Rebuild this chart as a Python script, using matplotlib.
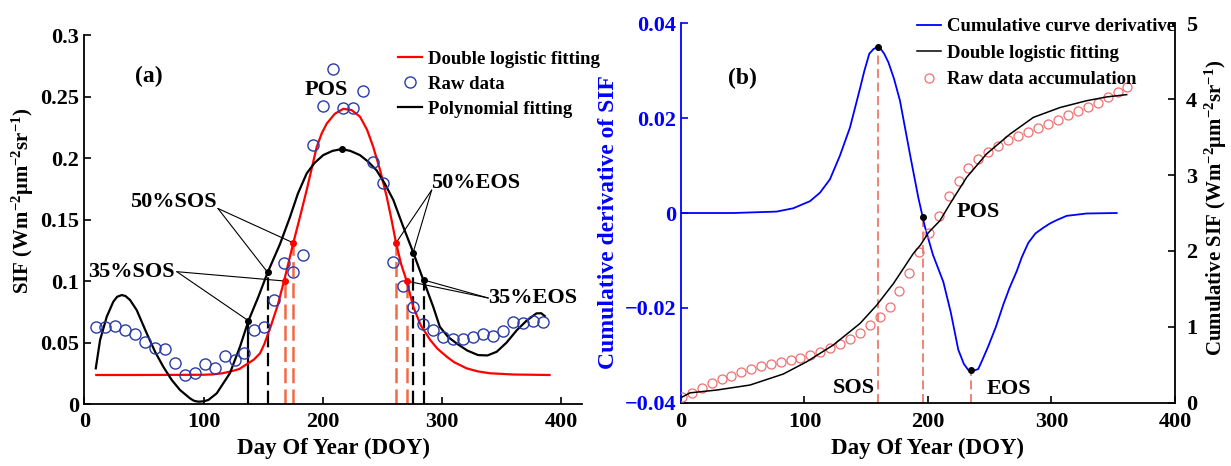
import numpy as np
import matplotlib.pyplot as plt

plt.rcParams['font.family'] = ['Liberation Serif', 'DejaVu Serif']
plt.rcParams['font.weight'] = 'bold'
plt.rcParams['axes.labelweight'] = 'bold'
plt.rcParams['mathtext.fontset'] = 'custom'
plt.rcParams['mathtext.rm'] = 'Liberation Serif:bold'
plt.rcParams['mathtext.it'] = 'Liberation Serif:bold:italic'
plt.rcParams['mathtext.bf'] = 'Liberation Serif:bold'
plt.rcParams['lines.solid_joinstyle'] = 'round'

# ---------------- panel (a) data ----------------
raw_doy = [9.6, 17.6, 26.0, 34.4, 42.5, 51.1, 59.3, 67.4, 76.0, 84.4, 92.8, 101.2,
           109.6, 117.9, 126.3, 134.1, 142.5, 150.9, 159.0, 167.4, 175.2, 183.6,
           192.0, 199.8, 208.2, 216.6, 225.0, 233.4, 241.7, 250.6, 258.5, 266.9,
           275.3, 283.7, 292.0, 300.4, 308.8, 317.2, 325.6, 334.0, 342.3, 350.7,
           359.1, 367.5, 375.9, 384.2]
raw_sif = [0.063, 0.063, 0.0634, 0.060, 0.057, 0.0504, 0.0458, 0.045, 0.0336, 0.0236,
           0.025, 0.0325, 0.0295, 0.0393, 0.0358, 0.0417, 0.060, 0.063, 0.0846, 0.1144,
           0.107, 0.121, 0.2106, 0.2423, 0.272, 0.241, 0.241, 0.2545, 0.197, 0.1794,
           0.1152, 0.0962, 0.0786, 0.0648, 0.0602, 0.0547, 0.0526, 0.0528, 0.0547,
           0.0569, 0.0553, 0.0593, 0.0669, 0.0661, 0.0677, 0.0667]

dl_doy = [10, 40, 80, 100, 108, 115, 122, 130, 136, 142, 147.3, 151, 155.7, 162, 167.4,
          175.2, 181, 186.4, 194.8, 199, 203.2, 210, 217.1, 224, 231.1, 237, 242.2, 248,
          253.5, 257.5, 261.3, 265.5, 270.2, 275.8, 282, 290, 296, 303.8, 310, 320.5, 330,
          340, 360, 390]
dl_sif = [0.0236, 0.0236, 0.0237, 0.0238, 0.0241, 0.0249, 0.0263, 0.0285, 0.0323, 0.036,
          0.0412, 0.049, 0.0615, 0.080, 0.100, 0.131, 0.153, 0.174, 0.209, 0.220, 0.228,
          0.236, 0.240, 0.239, 0.2336, 0.223, 0.209, 0.190, 0.1685, 0.150, 0.131, 0.114,
          0.100, 0.079, 0.064, 0.052, 0.045, 0.0385, 0.034, 0.029, 0.0265, 0.025, 0.024,
          0.0236]

poly_doy = [9.6, 13.2, 18.8, 24.3, 27.5, 31.3, 34.5, 38.3, 43.9, 52.3, 59.3, 66.2, 73.3,
            80.2, 88.6, 92.0, 95.6, 100.0, 104, 111, 122, 130.5, 137.6, 145.9, 153.7, 164,
            172.4, 179, 186.4, 193, 200.3, 208, 215.7, 223, 231, 238, 245, 252, 259, 267,
            275.8, 284.2, 292.5, 298, 305, 312, 321, 330, 338, 345.7, 354, 362.5, 371, 379,
            383, 386]
poly_sif = [0.029, 0.052, 0.071, 0.0832, 0.0872, 0.0886, 0.0878, 0.0846, 0.0764, 0.0575,
            0.0425, 0.0303, 0.0195, 0.0114, 0.0046, 0.0026, 0.0019, 0.0022, 0.0033, 0.0087,
            0.025, 0.0466, 0.0677, 0.0872, 0.107, 0.130, 0.152, 0.171, 0.1875, 0.196, 0.2024,
            0.2058, 0.2073, 0.2058, 0.2024, 0.197, 0.190, 0.179, 0.166, 0.145, 0.123,
            0.1008, 0.079, 0.0628, 0.0545, 0.0493, 0.0435, 0.0398, 0.0395, 0.0425, 0.050,
            0.060, 0.068, 0.0737, 0.0738, 0.0715]

# phenology points: [SOS35, SOS50, EOS50, EOS35]
dl_pts_doy = [168.0, 175.2, 261.3, 270.2]
dl_pts_sif = [0.100, 0.131, 0.131, 0.100]
poly_pts_doy = [137.6, 153.7, 275.6, 284.6]
poly_pts_sif = [0.0677, 0.107, 0.123, 0.1008]
poly_pos = (215.7, 0.2073)

# ---------------- panel (b) data ----------------
cum_doy = [0.5, 8.6, 16.8, 24.9, 33.0, 40.5, 48.6, 56.7, 64.8, 72.9, 81.0, 89.1, 96.4,
           104.5, 112.6, 120.6, 128.7, 136.8, 144.9, 153.0, 161.1, 169.2, 176.8, 184.9,
           193.0, 201.0, 209.2, 217.0, 225.1, 232.7, 240.7, 248.3, 256.4, 264.5, 272.6,
           280.7, 288.8, 296.9, 305.0, 313.1, 321.2, 329.3, 337.4, 345.5, 353.6, 360.9]
cum_raw = [0.071, 0.13, 0.19, 0.255, 0.308, 0.355, 0.40, 0.443, 0.483, 0.505, 0.53, 0.56,
           0.592, 0.628, 0.663, 0.715, 0.772, 0.834, 0.913, 1.022, 1.132, 1.255, 1.47,
           1.71, 1.98, 2.23, 2.457, 2.72, 2.917, 3.097, 3.215, 3.30, 3.387, 3.457, 3.52,
           3.566, 3.618, 3.676, 3.72, 3.786, 3.84, 3.895, 3.95, 4.026, 4.10, 4.167]

fit_doy = [0.5, 7.3, 28.9, 55.9, 82.8, 101.8, 123.3, 145.0, 158.5, 172.0, 177.3, 188.1,
           194.0, 200.3, 209.7, 217.8, 231.3, 247.5, 266.4, 285.3, 306.9, 328.5, 344.7, 360.9]
fit_cum = [0.071, 0.13, 0.167, 0.233, 0.378, 0.54, 0.76, 1.045, 1.286, 1.57, 1.70, 1.966,
           2.08, 2.24, 2.40, 2.62, 2.97, 3.28, 3.54, 3.76, 3.89, 3.98, 4.03, 4.06]

der_doy = [0.7, 42.4, 77.5, 90.9, 104.5, 112.6, 120.6, 128.7, 136.8, 144.9, 148.5, 152.5,
           156.0, 159.3, 161.2, 164.5, 167.9, 172.5, 177.3, 185.4, 192.2, 197.6, 204.0,
           212.4, 218.5, 224.5, 229.0, 232.6, 234.6, 237.5, 240.7, 244.0, 248.8, 255.0,
           261.0, 266.0, 271.8, 276.0, 281.2, 287.0, 293.4, 298.8, 304.2, 312.3, 328.5,
           352.8]
der_val = [0, 0, 0.0003, 0.001, 0.0025, 0.0043, 0.0071, 0.0121, 0.018, 0.0262, 0.030,
           0.0336, 0.0346, 0.035, 0.0348, 0.0336, 0.0318, 0.0283, 0.0237, 0.0124, 0.0032,
           -0.003, -0.0088, -0.0145, -0.021, -0.0288, -0.0318, -0.0331, -0.0332, -0.0332,
           -0.0329, -0.031, -0.0281, -0.024, -0.0193, -0.0158, -0.0123, -0.0093, -0.0063,
           -0.0043, -0.0031, -0.0022, -0.0015, -0.0006, -0.0001, 0]

# [SOS, POS, EOS] on derivative axis
pheno_doy = [159.3, 196.2, 234.6]
pheno_val = [0.035, -0.0009, -0.0332]

ORANGE = "#f26a45"
SALMON = "#ef7a6a"
BLUE_C = "#2a3aa8"

fig = plt.figure(figsize=(12.31, 4.66), dpi=100)
ax1 = fig.add_axes([0.0685, 0.1330, 0.4041, 0.7918])
ax2 = fig.add_axes([0.5532, 0.1358, 0.4013, 0.8142])
ax3 = ax2.twinx()

# ---------------- panel (a) ----------------
h_dl, = ax1.plot(dl_doy, dl_sif, color="red", lw=1.6, zorder=3)
h_poly, = ax1.plot(poly_doy, poly_sif, color="black", lw=1.6, zorder=3)
h_raw, = ax1.plot(raw_doy, raw_sif, "o", mfc="none", mec=BLUE_C, ms=8, mew=1.0, zorder=4)

dash = (0, (6, 2.5))
ax1.vlines(poly_pts_doy[0], 0, poly_pts_sif[0], color="black", lw=1.6)
for i in [1, 2, 3]:
    ax1.vlines(poly_pts_doy[i], 0, poly_pts_sif[i], color="black", lw=1.6, linestyles=[dash])
for i in range(4):
    ax1.vlines(dl_pts_doy[i], 0, dl_pts_sif[i], color=ORANGE, lw=1.8, linestyles=[dash])
ax1.plot(poly_pts_doy, poly_pts_sif, "o", color="black", ms=4, zorder=5)
ax1.plot(*poly_pos, "o", color="black", ms=4, zorder=5)
ax1.plot(dl_pts_doy, dl_pts_sif, "o", color="red", ms=4, zorder=5)

ax1.set_xlim(0, 417)
ax1.set_ylim(0, 0.3)
ax1.set_xticks([0, 100, 200, 300, 400])
ax1.set_yticks([0, 0.05, 0.1, 0.15, 0.2, 0.25, 0.3])
ax1.set_yticklabels(["0", "0.05", "0.1", "0.15", "0.2", "0.25", "0.3"])
ax1.set_xlabel("Day Of Year (DOY)", fontsize=16.5)
ax1.set_ylabel("SIF (Wm$^{-2}$μm$^{-2}$sr$^{-1}$)", fontsize=15, y=0.55, labelpad=3)

line_kw = dict(arrowstyle="-", color="black", lw=0.8, shrinkA=0, shrinkB=0)
ax1.text(54, 0.266, "(a)", fontsize=17, ha="center", va="center")
ax1.text(202.6, 0.255, "POS", fontsize=16, ha="center", va="center")
ax1.text(38, 0.164, "50%SOS", fontsize=16, ha="left", va="center")
ax1.text(3, 0.1076, "35%SOS", fontsize=16, ha="left", va="center")
ax1.text(291, 0.1797, "50%EOS", fontsize=16, ha="left", va="center")
ax1.text(338.5, 0.0862, "35%EOS", fontsize=16, ha="left", va="center")
for xy in [(poly_pts_doy[1], poly_pts_sif[1]), (dl_pts_doy[1], dl_pts_sif[1])]:
    ax1.annotate("", xy=xy, xytext=(112, 0.159), arrowprops=line_kw)
for xy in [(poly_pts_doy[0], poly_pts_sif[0]), (dl_pts_doy[0], dl_pts_sif[0])]:
    ax1.annotate("", xy=xy, xytext=(77.5, 0.1076), arrowprops=line_kw)
for xy in [(poly_pts_doy[2], poly_pts_sif[2]), (dl_pts_doy[2], dl_pts_sif[2])]:
    ax1.annotate("", xy=xy, xytext=(291.2, 0.174), arrowprops=line_kw)
for xy in [(poly_pts_doy[3], poly_pts_sif[3]), (dl_pts_doy[3], dl_pts_sif[3])]:
    ax1.annotate("", xy=xy, xytext=(338.6, 0.0862), arrowprops=line_kw)

ax1.legend([h_dl, h_raw, h_poly], ["Double logistic fitting", "Raw data", "Polynomial fitting"],
           loc="upper left", bbox_to_anchor=(0.6306, 0.957), frameon=False, fontsize=13.5,
           handlelength=1.3, handletextpad=0.3, labelspacing=0.42, borderaxespad=0,
           borderpad=0, numpoints=1)

for s in ["top", "right"]:
    ax1.spines[s].set_visible(False)

# ---------------- panel (b) ----------------
h_der, = ax2.plot(der_doy, der_val, color="blue", lw=1.3, zorder=3)
ax2.plot(pheno_doy, pheno_val, "o", color="black", ms=4, zorder=5)
for x, y in zip(pheno_doy, pheno_val):
    ax2.vlines(x, -0.04, y, color=SALMON, lw=1.3, linestyles=[(0, (5, 2.5))])
ax2.set_xlim(0, 400)
ax2.set_ylim(-0.04, 0.04)
ax2.set_xticks([0, 100, 200, 300, 400])
ax2.set_yticks([-0.04, -0.02, 0, 0.02, 0.04])
ax2.set_yticklabels(["\u22120.04", "\u22120.02", "0", "0.02", "0.04"])
ax2.set_xlabel("Day Of Year (DOY)", fontsize=16.5)
ax2.set_ylabel("Cumulative derivative of SIF", fontsize=17, color="blue", y=0.475)

h_fit, = ax3.plot(fit_doy, fit_cum, color="black", lw=1.1, zorder=3)
h_cum, = ax3.plot(cum_doy, cum_raw, "o", mfc="none", mec="#f07070", ms=6.5, mew=0.9)
ax3.set_ylim(0, 5)
ax3.set_yticks([0, 1, 2, 3, 4, 5])
ax3.set_ylabel("Cumulative SIF (Wm$^{-2}$μm$^{-2}$sr$^{-1}$)", fontsize=15, y=0.514)

ax2.text(49.4, 0.0284, "(b)", fontsize=17, ha="center", va="center")
ax2.text(157, -0.0368, "SOS", fontsize=16, ha="right", va="center")
ax2.text(223.5, 0.0003, "POS", fontsize=16, ha="left", va="center")
ax2.text(247.8, -0.0372, "EOS", fontsize=16, ha="left", va="center")

ax3.legend([h_der, h_fit, h_cum],
           ["Cumulative curve derivative", "Double logistic fitting", "Raw data accumulation"],
           loc="upper left", bbox_to_anchor=(0.478, 1.014), frameon=False, fontsize=13.5,
           handlelength=1.3, handletextpad=0.3, labelspacing=0.5, borderaxespad=0,
           borderpad=0, numpoints=1)

for s in ["top", "right"]:
    ax2.spines[s].set_visible(False)
for s in ["top", "left", "bottom"]:
    ax3.spines[s].set_visible(False)
ax2.spines["left"].set_color("blue")

for ax in [ax1, ax2, ax3]:
    ax.tick_params(direction="in", length=5, width=1.2, labelsize=16)
    for s in ax.spines.values():
        s.set_linewidth(1.3)
ax1.tick_params(axis="x", pad=6)
ax2.tick_params(axis="x", pad=7)
ax2.tick_params(axis="y", colors="blue")
ax3.tick_params(axis="y", pad=8)

fig.savefig("out.png", dpi=100)
